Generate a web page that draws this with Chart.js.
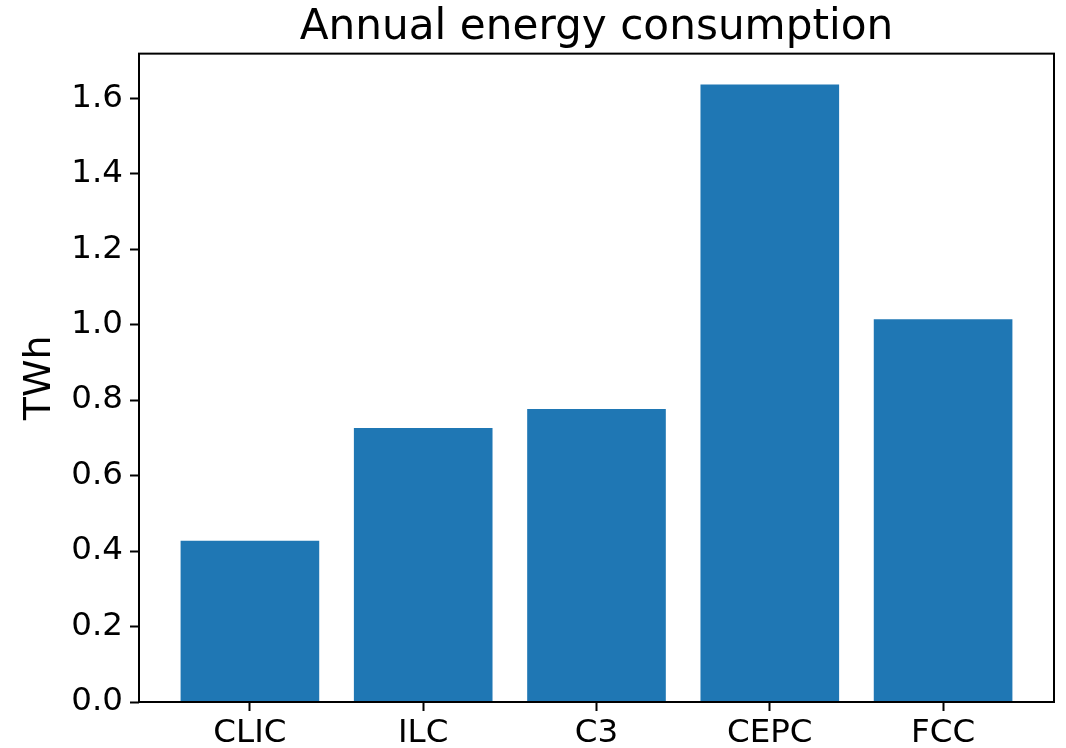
<!DOCTYPE html>
<html>
<head>
<meta charset="utf-8">
<script src="https://cdn.jsdelivr.net/npm/chart.js@4/dist/chart.umd.min.js"></script>
<style>
  html, body { margin: 0; padding: 0; background: #ffffff; }
  canvas { display: block; }
</style>
</head>
<body>
<canvas id="chart" width="1066" height="748"></canvas>
<script>
// Annual energy consumption of proposed collider projects (TWh)
const categories = ['CLIC', 'ILC', 'C3', 'CEPC', 'FCC'];
const consumption = [0.427, 0.726, 0.776, 1.636, 1.014];
const yTickValues = [0.0, 0.2, 0.4, 0.6, 0.8, 1.0, 1.2, 1.4, 1.6];
const chartTitle = 'Annual energy consumption';
const yAxisLabel = 'TWh';

const FONT = "'DejaVu Sans', 'Liberation Sans', sans-serif";
const BAR_COLOR = '#1f77b4';

// axis limits with a 5% margin around the data
const xMin = -0.4 - 0.05 * (categories.length - 1 + 0.8);
const xMax = categories.length - 1 + 0.4 + 0.05 * (categories.length - 1 + 0.8);
const yMax = Math.max(...consumption) * 1.05;

// closed box around the plotting area
const frame = {
  id: 'frame',
  afterDatasetsDraw(chart) {
    const { ctx, chartArea: a } = chart;
    ctx.save();
    ctx.strokeStyle = '#000000';
    ctx.lineWidth = 2;
    ctx.strokeRect(a.left, a.top, a.right - a.left, a.bottom - a.top);
    ctx.restore();
  }
};

new Chart(document.getElementById('chart'), {
  type: 'bar',
  data: {
    datasets: [{
      data: categories.map((c, i) => ({ x: i, y: consumption[i] })),
      backgroundColor: BAR_COLOR,
      borderWidth: 0,
      categoryPercentage: 1.0,
      barPercentage: 0.8
    }]
  },
  options: {
    responsive: false,
    animation: false,
    devicePixelRatio: 1,
    layout: { padding: { left: 0, right: 12, top: 0, bottom: 0 } },
    plugins: {
      legend: { display: false },
      tooltip: { enabled: false },
      title: {
        display: true,
        text: chartTitle,
        fullSize: false,
        color: '#000000',
        font: { family: FONT, size: 42.2, weight: 'normal', lineHeight: 1.2 },
        padding: { top: 3, bottom: 0 }
      }
    },
    scales: {
      x: {
        type: 'linear',
        min: xMin,
        max: xMax,
        offset: false,
        afterFit: s => { s.height = 46; },
        afterBuildTicks: s => { s.ticks = categories.map((c, i) => ({ value: i })); },
        grid: {
          offset: false,
          drawOnChartArea: false, drawTicks: true,
          tickLength: 9, tickColor: '#000000', tickWidth: 2
        },
        border: { display: false },
        ticks: {
          autoSkip: false, maxRotation: 0, padding: 3,
          color: '#000000',
          font: { family: FONT, size: 32.5 },
          callback: v => categories[v]
        }
      },
      y: {
        type: 'linear',
        min: 0,
        max: yMax,
        afterFit: s => { s.width = 139; },
        afterBuildTicks: s => { s.ticks = yTickValues.map(v => ({ value: v })); },
        grid: {
          drawOnChartArea: false, drawTicks: true,
          tickLength: 9, tickColor: '#000000', tickWidth: 2
        },
        border: { display: false },
        ticks: {
          padding: 7,
          color: '#000000',
          font: { family: FONT, size: 32.5 },
          callback: v => Number(v).toFixed(1)
        },
        title: {
          display: true,
          text: yAxisLabel,
          color: '#000000',
          font: { family: FONT, size: 38, lineHeight: 1.2 },
          padding: { top: 17, bottom: 0 }
        }
      }
    }
  },
  plugins: [frame]
});
</script>
</body>
</html>
